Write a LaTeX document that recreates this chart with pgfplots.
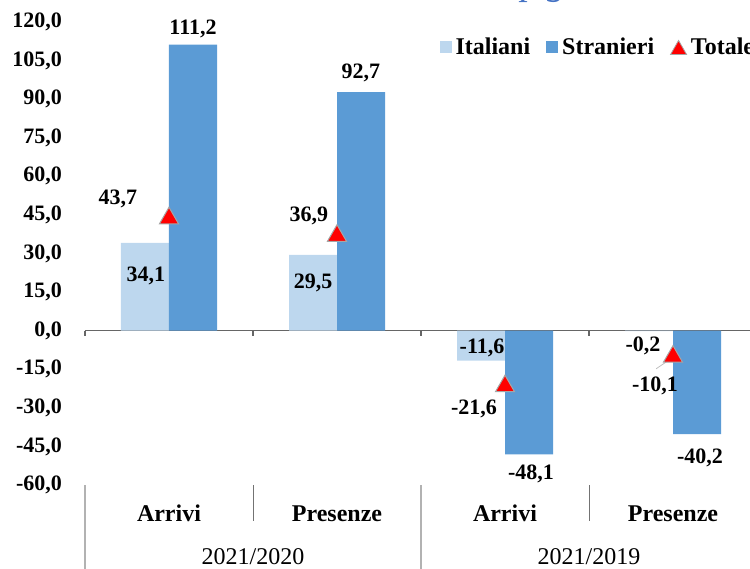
\documentclass[border=0pt]{standalone}
\usepackage{pgfplots}
\pgfplotsset{compat=1.18}
\usepackage{pgfplotstable}
\usepackage{fontspec}
\setmainfont{Liberation Serif}
\definecolor{ita}{HTML}{BDD7EE}
\definecolor{stra}{HTML}{5B9BD5}
\definecolor{titleblue}{HTML}{4472C4}

\pgfplotstableread{
x y dx dy
0 34.1 0.5 -16.4
1 29.5 0 -14
2 -11.6 0.5 6.5
3 -0.2 -3 -7.3
}\ita
\pgfplotstableread{
x y dx dy
0 111.2 0 8
1 92.7 0 9.8
2 -48.1 1 -9.5
3 -40.2 1.5 -12
}\stra
\pgfplotstableread{
x y dx dy
0 43.7 -25.5 9.8
1 36.9 -14 10
2 -21.6 -15.5 -11.5
3 -10.1 -9 -14.5
}\tot

\begin{document}
\begin{tikzpicture}
\useasboundingbox (0,0) rectangle (375pt,284pt);
\clip (0,0) rectangle (375pt,284pt);
\node[anchor=base, text=titleblue, font=\fontsize{19}{21}\selectfont\itshape] at (272pt,286.5pt) {p\,g};
\begin{axis}[
  at={(42.5pt,41.5pt)}, anchor=south west,
  scale only axis, width=336pt, height=231.5pt,
  xmin=-0.5, xmax=3.5, ymin=-60, ymax=120,
  clip=false,
  axis line style={draw=none},
  major tick length=0pt,
  ytick={-60,-45,...,120},
  yticklabel style={font=\fontsize{11}{13}\selectfont\bfseries, xshift=-8pt},
  xtick={0,1,2,3},
  xticklabels={Arrivi,Presenze,Arrivi,Presenze},
  xticklabel style={font=\fontsize{12}{14}\selectfont\bfseries, anchor=base, yshift=-18pt},
  /pgf/number format/.cd, fixed, fixed zerofill, precision=1, use comma, assume math mode=true,
  /pgfplots/.cd,
  ybar, bar width=24pt,
  nodes near coords,
  every node near coord/.append style={font=\fontsize{11}{13}\selectfont\bfseries, anchor=center, xshift=\dx pt, yshift=\dy pt},
  visualization depends on={\thisrow{dx} \as \dx},
  visualization depends on={\thisrow{dy} \as \dy},
  legend columns=3,
  legend style={draw=none, fill=none, at={(0.518,0.945)}, anchor=west, font=\fontsize{12}{14}\selectfont\bfseries, /tikz/every even column/.append style={column sep=6pt}},
]
\draw[gray!80!black, line width=0.6pt] (axis cs:-0.5,0) -- (axis cs:3.5,0);
\draw[gray!80!black, line width=0.6pt] (axis cs:-0.5,0) -- ([yshift=-2.5pt]axis cs:-0.5,0);
\draw[gray!80!black, line width=0.6pt] (axis cs:0.5,0) -- ([yshift=-2.5pt]axis cs:0.5,0);
\draw[gray!80!black, line width=0.6pt] (axis cs:1.5,0) -- ([yshift=-2.5pt]axis cs:1.5,0);
\draw[gray!80!black, line width=0.6pt] (axis cs:2.5,0) -- ([yshift=-2.5pt]axis cs:2.5,0);
\addplot[fill=ita, draw=none, bar shift=-12pt,
  legend image code/.code={\fill[ita] (0pt,-3pt) rectangle (6pt,3pt);}] table[x=x,y=y] {\ita};
\addlegendentry{Italiani}
\addplot[fill=stra, draw=none, bar shift=12pt,
  legend image code/.code={\fill[stra] (0pt,-3pt) rectangle (6pt,3pt);}] table[x=x,y=y] {\stra};
\addlegendentry{Stranieri}
\addplot[only marks, mark=triangle*, mark size=5.5pt, mark options={fill=red, draw=gray!70, line width=0.5pt},
  legend image code/.code={\filldraw[fill=red, draw=gray!70, line width=0.4pt] (-0.5pt,-3.5pt) -- (7.5pt,-3.5pt) -- (3.5pt,3.5pt) -- cycle;}] table[x=x,y=y] {\tot};
\addlegendentry{Totale}
\draw[gray!50, line width=0.4pt] (axis cs:2.9,-14.8) -- (axis cs:2.97,-11.7);
\draw[gray!60, line width=0.6pt] (axis cs:-0.5,-60) -- ([yshift=-45pt]axis cs:-0.5,-60);
\draw[gray!60, line width=0.6pt] (axis cs:1.5,-60) -- ([yshift=-45pt]axis cs:1.5,-60);
\draw[gray!90!black, line width=0.4pt] (axis cs:0.5,-60) -- ([yshift=-18pt]axis cs:0.5,-60);
\draw[gray!90!black, line width=0.4pt] (axis cs:2.5,-60) -- ([yshift=-18pt]axis cs:2.5,-60);
\node[anchor=base, font=\fontsize{12}{14}\selectfont] at ([yshift=-39.5pt]axis cs:0.5,-60) {2021/2020};
\node[anchor=base, font=\fontsize{12}{14}\selectfont] at ([yshift=-39.5pt]axis cs:2.5,-60) {2021/2019};
\end{axis}
\end{tikzpicture}
\end{document}
